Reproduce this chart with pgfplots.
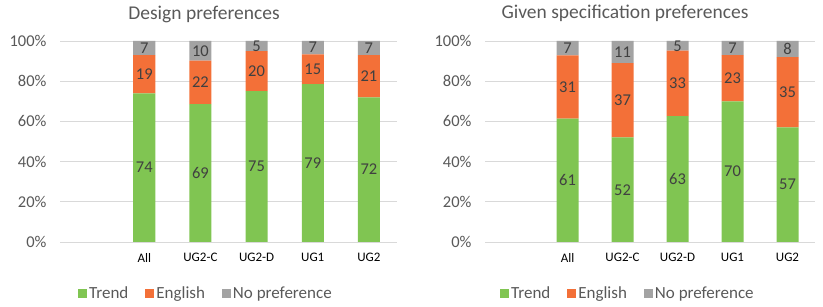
\documentclass[border=0pt]{standalone}
\usepackage{pgfplots}
\pgfplotsset{compat=1.18}
\usepackage{pgfplotstable}
\usepackage{fontspec}
\setmainfont{Carlito}
\definecolor{cGreen}{RGB}{128,197,82}
\definecolor{cOrange}{RGB}{243,112,56}
\definecolor{cGray}{RGB}{163,163,163}
\definecolor{cText}{RGB}{89,89,89}
\definecolor{cLabel}{RGB}{64,64,64}
\definecolor{cGrid}{RGB}{217,217,217}

\pgfplotstableread{
x trend english nopref
1 74 19 7
2 68.6 21.6 9.8
3 75 20 5
4 78.6 14.8 6.6
5 72 21 7
}\designdata
\pgfplotstableread{
x trend english nopref
1 61.4 31.4 7.2
2 52 37 11
3 62.6 32.6 4.8
4 70 23 7
5 57 35 8
}\specdata

\pgfplotsset{
  prefstyle/.style={
    scale only axis, height=201bp,
    ybar stacked, bar width=22bp,
    ymin=0, ymax=100, xmin=-0.5, xmax=5.5,
    ytick={0,20,...,100},
    yticklabel={\pgfmathprintnumber{\tick}\%},
    xtick={1,2,3,4,5},
    xticklabels={All,UG2-C,UG2-D,UG1,UG2},
    axis line style={draw=none},
    ymajorgrids, grid style={cGrid, line width=0.8bp},
    major tick length=0pt,
    /pgf/number format/assume math mode=true,
    yticklabel style={font=\fontsize{16.5bp}{19bp}\selectfont, text=cText, xshift=-10bp},
    xticklabel style={font=\fontsize{13bp}{15bp}\selectfont, text=black, yshift=-8bp},
    clip=false,
    legend columns=3,
    legend style={draw=none, fill=none, at={(0.433,-0.254)}, anchor=center,
      font=\fontsize{17bp}{19bp}\selectfont, text=cText,
      /tikz/every even column/.append style={column sep=15bp}},
    legend image code/.code={\fill[##1] (0bp,-4.5bp) rectangle (9bp,4.5bp);},
    every axis plot/.append style={
      draw=none, point meta=explicit,
      nodes near coords={\pgfmathprintnumber[fixed,precision=0]{\pgfplotspointmeta}},
      every node near coord/.append style={font=\fontsize{16.5bp}{19bp}\selectfont, text=cLabel,
        anchor=center},
    },
  },
}

\begin{document}
\begin{tikzpicture}
\useasboundingbox (0,0) rectangle (823bp,307bp);
\node[anchor=base, font=\fontsize{19.5bp}{23bp}\selectfont, text=cText] at (204bp,287.5bp) {Design preferences};
\node[anchor=base, font=\fontsize{19.5bp}{23bp}\selectfont, text=cText] at (625bp,288.5bp) {Given specification preferences};

\begin{axis}[prefstyle, width=337bp, at={(60bp,65bp)}, anchor=south west]
\addplot[fill=cGreen] table[x=x, y=trend, meta=trend] \designdata;
\addplot[fill=cOrange] table[x=x, y=english, meta=english] \designdata;
\addplot[fill=cGray] table[x=x, y=nopref, meta=nopref] \designdata;
\legend{Trend, English, No preference}
\end{axis}

\begin{axis}[prefstyle, width=330bp, at={(485bp,65bp)}, anchor=south west]
\addplot[fill=cGreen] table[x=x, y=trend, meta=trend] \specdata;
\addplot[fill=cOrange] table[x=x, y=english, meta=english] \specdata;
\addplot[fill=cGray] table[x=x, y=nopref, meta=nopref] \specdata;
\legend{Trend, English, No preference}
\end{axis}
\end{tikzpicture}
\end{document}
